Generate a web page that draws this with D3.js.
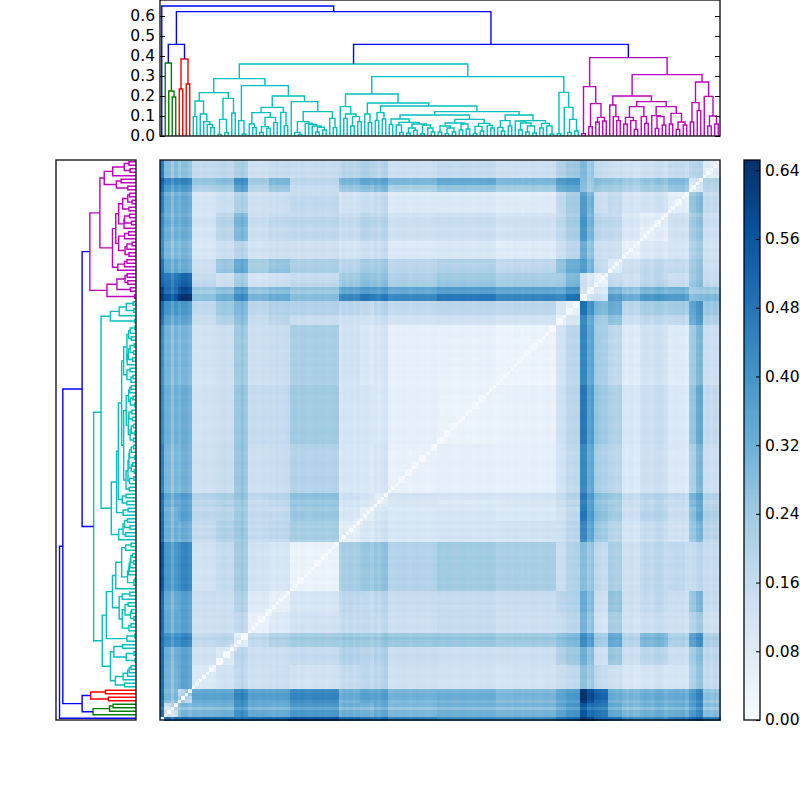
<!DOCTYPE html>
<html><head><meta charset="utf-8">
<script src="https://cdnjs.cloudflare.com/ajax/libs/d3/7.8.5/d3.min.js"></script>
<style>html,body{margin:0;padding:0;background:#fff}svg{display:block}text{font-family:"DejaVu Sans",sans-serif;fill:#000}</style>
</head><body><div id="c"></div>
<script>
// ---------- data ----------
const leafCount = 160;
const heightTicks = [0,0.1,0.2,0.3,0.4,0.5,0.6];
const colorTicks = [0,0.08,0.16,0.24,0.32,0.40,0.48,0.56,0.64];
const heightMax = 0.68;
const colorMax = 0.652;
const bluesStops = ["#f7fbff","#deebf7","#c6dbef","#9ecae1","#6baed6","#4292c6","#2171b5","#08519c","#08306b"];
const clusterColors = {root:"#0000ff",green:"#008000",red:"#ff0000",cyan:"#00bfbf",magenta:"#bf00bf"};

// Tree nodes: [height, left, right]; 0 is a leaf.
const greenTree = [.365,0,[.225,0,[.195,0,0]]];
const redTree = [.385,[.235,0,0],[.26,0,0]];
const cyanLeftTree = [.287,
  [.217,
    [.175,[.097,0,0],[.11,0,[.072,0,[.058,0,[.042,0,0]]]]],
    [.188,[.083,[.008,0,0],[.017,0,0]],[.115,0,0]]],
  [.252,
    [.077,0,[.01,0,0]],
    [.2,
      [.143,
        [.117,[.06,0,[.042,0,0]],[.093,[.047,[.018,0,0],[.038,0,0]],[.067,0,0]]],
        [.118,0,[.052,0,0]]],
      [.172,0,
        [.122,
          [.072,[.018,0,[.008,0,0]],[.063,0,[.058,0,[.05,0,[.044,[.02,0,0],[.03,0,0]]]]]],
          [.088,0,[.042,0,0]]]]]]];
const cyanRightTree = [.297,
  [.21,
    [.147,0,[.11,[.088,0,0],[.097,[.05,0,0],[.072,0,0]]]],
    [.165,
      [.11,0,[.067,0,0]],
      [.15,
        [.117,[.078,0,0],[.085,0,0]],
        [.122,
          [.105,
            [.085,[.058,0,0],[.068,[.055,0,[.018,0,0]],[.06,[.04,[.015,0,0],[.028,0,0]],[.055,[.012,0,0],[.04,0,[.02,0,0]]]]]],
            [.083,
              [.065,[.05,[.02,0,0],[.04,[.012,0,0],[.02,0,0]]],[.06,[.03,0,0],[.035,0,0]]],
              [.063,[.048,[.012,0,0],[.025,0,0]],[.053,0,[.04,0,0]]]]],
          [.105,
            [.077,[.043,0,[.025,0,0]],[.05,0,0]],
            [.077,
              [.075,0,[.065,[.03,0,0],[.05,[.02,0,0],[.015,0,0]]]],
              [.063,[.04,0,0],[.05,0,[.01,0,0]]]]]]]]],
  [.218,[.012,0,0],[.143,0,[.083,[.018,0,0],[.025,0,0]]]]];
const magentaTree = [.392,
  [.247,[.012,0,0],[.162,[.047,0,0],[.093,[.07,0,0],[.075,0,0]]]],
  [.307,
    [.2,
      [.155,0,[.097,0,[.077,0,0]]],
      [.172,
        [.147,[.093,[.06,0,0],[.077,0,[.033,0,0]]],[.097,0,[.063,0,0]]],
        [.147,[.102,0,[.097,[.038,0,0],[.055,0,0]]],[.113,[.06,0,0],[.07,[.033,0,0],[.055,0,0]]]]]],
    [.27,[.167,[.07,0,0],[.127,0,0]],[.198,0,[.1,[.05,0,0],[.06,0,0]]]]]];
const rootHeight = .65, upperHeight = .622, outlierHeight = .458, mainHeight = .36;

// Heat map: leaf index where each band starts, and the lower triangle of band-to-band distances.
const bandStarts = [0,1,5,9,16,21,25,31,37,51,57,61,65,79,96,113,116,120,122,124,128,132,137,145,151,153,155,160];
const bandDistances = [
 [0],
 [.50,.14],
 [.48,.28,.15],
 [.50,.31,.33,.09],
 [.50,.32,.33,.12,.09],
 [.48,.40,.40,.16,.17,.05],
 [.50,.34,.34,.13,.14,.16,.05],
 [.50,.33,.34,.14,.14,.19,.08,.05],
 [.55,.39,.41,.12,.16,.22,.12,.10,.04],
 [.50,.32,.30,.16,.20,.23,.16,.17,.22,.06],
 [.48,.31,.33,.17,.18,.22,.16,.16,.24,.09,.05],
 [.48,.33,.33,.18,.20,.23,.16,.17,.25,.11,.09,.05],
 [.45,.30,.29,.13,.15,.24,.14,.15,.20,.10,.09,.10,.05],
 [.42,.32,.30,.12,.14,.24,.16,.16,.235,.11,.10,.09,.06,.04],
 [.42,.31,.28,.12,.14,.23,.14,.15,.22,.12,.09,.10,.06,.05,.04],
 [.48,.36,.33,.15,.20,.26,.16,.18,.15,.13,.12,.14,.12,.13,.12,.05],
 [.50,.40,.36,.17,.24,.28,.18,.20,.20,.18,.16,.18,.17,.18,.18,.10,.05],
 [.62,.55,.62,.26,.31,.40,.30,.32,.27,.42,.46,.44,.42,.46,.43,.42,.48,.05],
 [.60,.50,.56,.24,.27,.36,.26,.28,.25,.34,.37,.36,.34,.37,.35,.34,.40,.12,.05],
 [.52,.48,.50,.17,.14,.22,.12,.14,.17,.24,.27,.26,.22,.25,.23,.24,.30,.13,.10,.05],
 [.48,.34,.30,.13,.24,.32,.22,.25,.21,.18,.22,.22,.18,.20,.17,.26,.32,.36,.30,.16,.07],
 [.42,.30,.28,.10,.14,.18,.12,.13,.13,.11,.13,.14,.09,.10,.08,.14,.18,.32,.26,.14,.13,.05],
 [.42,.32,.30,.11,.18,.28,.14,.16,.17,.15,.18,.17,.13,.14,.12,.17,.22,.38,.30,.18,.16,.09,.06],
 [.45,.32,.30,.10,.13,.19,.12,.13,.16,.11,.13,.14,.08,.08,.07,.16,.22,.36,.30,.14,.15,.10,.11,.05],
 [.50,.38,.36,.20,.22,.34,.19,.24,.15,.24,.26,.28,.21,.25,.23,.32,.34,.26,.22,.24,.22,.20,.22,.24,.06],
 [.54,.44,.42,.26,.28,.40,.24,.30,.18,.30,.34,.34,.30,.34,.30,.38,.40,.28,.24,.28,.26,.24,.26,.28,.10,.06],
 [.46,.28,.24,.16,.17,.20,.13,.15,.15,.18,.20,.18,.14,.16,.14,.20,.24,.28,.24,.16,.13,.12,.13,.15,.18,.20,.07]
];
// Light or dark stripe of each leaf across the map, as seen in the picture.
const leafStripes = [
 0,0,0,-.05,0,0,.03,.03,.01,0,
 0,-.005,.005,0,0,.005,-.005,.005,.01,0,
 0,.01,.01,.03,.005,-.005,.005,0,-.005,.005,
 0,.005,-.005,.01,0,.005,.01,0,.005,-.005,
 .005,0,-.005,0,.005,0,.005,-.005,0,.005,
 .005,-.01,.01,0,.012,-.005,.01,.005,.012,.012,
 -.005,.01,-.005,.018,.025,-.005,-.005,0,0,.005,
 0,-.005,0,.005,0,0,-.005,0,.005,.005,
 0,0,.005,0,-.005,0,.005,0,0,-.005,
 0,.005,0,.005,.005,0,-.01,-.005,-.005,0,
 -.005,.005,0,-.005,0,-.005,.005,0,-.005,0,
 .005,0,0,-.005,0,.005,0,0,.005,.005,
 .01,.01,-.01,.01,.01,0,-.01,-.01,.015,.005,
 0,.01,.005,-.005,.01,-.005,-.005,-.005,.01,.005,
 -.005,.015,.02,.012,-.005,.01,.01,.015,.012,.018,
 -.005,0,.01,-.005,.005,0,.01,-.005,.01,0
];

// ---------- drawing ----------
const W=800,H=800;
const svg=d3.select("#c").append("svg").attr("width",W).attr("height",H);
const heat={x:160,y:160,w:560,h:560}, topBox={x:160,y:0,w:560,h:136}, leftBox={x:56,y:160,w:80,h:560}, barBox={x:744,y:160,w:16,h:560};
const color=d3.scaleLinear().domain(bluesStops.map((_,i)=>i/(bluesStops.length-1)*colorMax)).range(bluesStops).clamp(true);
const idx=d3.range(leafCount);

// Assemble tree and lay out leaves
function paint(t,c){ return t===0?0:{h:t[0],l:paint(t[1],c),r:paint(t[2],c),c}; }
const cyanNode=(h,a,b)=>({h,l:paint(a,"cyan"),r:paint(b,"cyan"),c:"cyan"});
const tree={h:rootHeight,c:"root",l:0,r:{h:upperHeight,c:"root",
  l:{h:outlierHeight,c:"root",l:paint(greenTree,"green"),r:paint(redTree,"red")},
  r:{h:outlierHeight,c:"root",l:cyanNode(mainHeight,cyanLeftTree,cyanRightTree),r:paint(magentaTree,"magenta")}}};
let counter=0; const links=[];
function layout(n){
  if(n===0) return {pos:counter++,h:0};
  const a=layout(n.l), b=layout(n.r);
  links.push({a,b,h:n.h,c:n.c});
  return {pos:(a.pos+b.pos)/2,h:n.h};
}
layout(tree);

// Heat map cells: two leaves merged directly in the tree lie at that merge height
const xBand=d3.scaleBand().domain(idx).range([heat.x,heat.x+heat.w]);
const yBand=d3.scaleBand().domain(idx).range([heat.y+heat.h,heat.y]);
const bandOf=d3.scaleThreshold().domain(bandStarts.slice(1,-1)).range(d3.range(bandStarts.length-1));
const merged=new Map();
links.filter(k=>k.a.h===0&&k.b.h===0).forEach(k=>merged.set(k.a.pos+"_"+k.b.pos,k.h));
function dist(i,j){
  if(i===j) return 0;
  const key=Math.min(i,j)+"_"+Math.max(i,j);
  if(merged.has(key)) return merged.get(key);
  const a=bandOf(i),b=bandOf(j);
  return Math.max(.012,(a>=b?bandDistances[a][b]:bandDistances[b][a])+leafStripes[i]+leafStripes[j]);
}
const cells=[]; idx.forEach(i=>idx.forEach(j=>cells.push({i,j,v:dist(i,j)})));
svg.append("g").attr("shape-rendering","crispEdges").selectAll("rect").data(cells).join("rect")
  .attr("x",d=>xBand(d.i)).attr("y",d=>yBand(d.j)).attr("width",xBand.bandwidth()+.5).attr("height",yBand.bandwidth()+.5)
  .attr("fill",d=>color(d.v));

const leafX=d3.scaleLinear().domain([-.5,leafCount-.5]).range([topBox.x,topBox.x+topBox.w]);
const leafY=d3.scaleLinear().domain([-.5,leafCount-.5]).range([leftBox.y+leftBox.h,leftBox.y]);
const hY=d3.scaleLinear().domain([0,heightMax]).range([topBox.y+topBox.h,topBox.y]);
const hX=d3.scaleLinear().domain([0,heightMax]).range([leftBox.x+leftBox.w,leftBox.x]);
const line=d3.line();
const gt=svg.append("g"), gl=svg.append("g");
links.forEach(k=>{
  gt.append("path").attr("fill","none").attr("stroke",clusterColors[k.c]).attr("stroke-width",1.4)
    .attr("d",line([[leafX(k.a.pos),hY(k.a.h)],[leafX(k.a.pos),hY(k.h)],[leafX(k.b.pos),hY(k.h)],[leafX(k.b.pos),hY(k.b.h)]]));
  gl.append("path").attr("fill","none").attr("stroke",clusterColors[k.c]).attr("stroke-width",1.4)
    .attr("d",line([[hX(k.a.h),leafY(k.a.pos)],[hX(k.h),leafY(k.a.pos)],[hX(k.h),leafY(k.b.pos)],[hX(k.b.h),leafY(k.b.pos)]]));
});

// Frames
[heat,topBox,leftBox,barBox].forEach(b=>{
  if(b===barBox){
    const cs=d3.range(256);
    const barY=d3.scaleBand().domain(cs).range([b.y+b.h,b.y]);
    svg.append("g").attr("shape-rendering","crispEdges").selectAll("rect").data(cs).join("rect")
      .attr("x",b.x).attr("width",b.w).attr("y",c=>barY(c)).attr("height",barY.bandwidth()+.6)
      .attr("fill",c=>color((c+.5)/256*colorMax));
  }
  svg.append("rect").attr("x",b.x).attr("y",b.y).attr("width",b.w).attr("height",b.h)
    .attr("fill","none").attr("stroke","#000").attr("stroke-width",1.25);
});

// Axes with inward ticks
function styleAxis(g){ g.select(".domain").remove(); g.selectAll("line").attr("stroke","#000").attr("stroke-width",1); g.selectAll("text").attr("font-size",15.5).attr("font-family","DejaVu Sans").attr("fill","#000"); }
const topAxis=d3.axisLeft(hY).tickValues(heightTicks).tickFormat(d3.format(".1f")).tickSizeInner(-5).tickSizeOuter(0).tickPadding(5);
svg.append("g").attr("transform",`translate(${topBox.x},0)`).call(topAxis).call(styleAxis);
svg.append("g").attr("transform",`translate(${topBox.x+topBox.w},0)`).call(d3.axisRight(hY).tickValues(heightTicks).tickSizeInner(-5).tickSizeOuter(0).tickFormat("")).call(styleAxis);
const barScale=d3.scaleLinear().domain([0,colorMax]).range([barBox.y+barBox.h,barBox.y]);
svg.append("g").attr("transform",`translate(${barBox.x+barBox.w},0)`).call(d3.axisRight(barScale).tickValues(colorTicks).tickFormat(d3.format(".2f")).tickSizeInner(-4).tickSizeOuter(0).tickPadding(5)).call(styleAxis);
</script></body></html>
